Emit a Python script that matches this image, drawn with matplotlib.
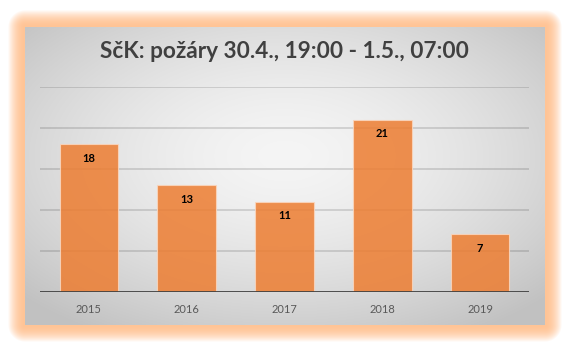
import numpy as np
import matplotlib
matplotlib.use("Agg")
import matplotlib.pyplot as plt

years = ["2015", "2016", "2017", "2018", "2019"]
fires = [18, 13, 11, 21, 7]
title = "SčK: požáry 30.4., 19:00 - 1.5., 07:00"

W, H = 570, 351
fig = plt.figure(figsize=(W / 100, H / 100), dpi=100)

# background: white, orange glow, radial gray gradient panel
px0, px1, py0, py1 = 25, 545, 27, 325
yy, xx = np.mgrid[0:H, 0:W] + 0.5
dx = np.maximum(np.maximum(px0 - xx, xx - px1), 0)
dy = np.maximum(np.maximum(py0 - yy, yy - py1), 0)
d = np.hypot(dx, dy)
glow = np.clip(1 - (d / 17.0) ** 2, 0, 1) * (d > 0)
img = np.ones((H, W, 3))
glow_col = np.array([255, 196, 150]) / 255
img = img * (1 - glow[..., None]) + glow_col * glow[..., None]
inside = (xx >= px0) & (xx <= px1) & (yy >= py0) & (yy <= py1)
cx, cy = (px0 + px1) / 2, (py0 + py1) / 2 - 20
r = np.hypot((xx - cx) / ((px1 - px0) / 2), (yy - cy) / ((py1 - py0) / 2))
val = np.clip(0.96 - 0.12 * r ** 1.6, 0.76, 0.96)
img[inside] = np.repeat(val[inside][:, None], 3, axis=1)

bg = fig.add_axes([0, 0, 1, 1])
bg.imshow(img, extent=(0, W, H, 0), interpolation="bilinear")
bg.set_xlim(0, W)
bg.set_ylim(H, 0)
bg.axis("off")

bg.text(284, 52, title, ha="center", va="center", fontsize=16.3,
        fontweight="bold", color="#404040", family="Lato")

# plot axes
ax_l, ax_r, ax_t, ax_b = 40, 529, 87, 291.7
ax = fig.add_axes([ax_l / W, (H - ax_b) / H, (ax_r - ax_l) / W, (ax_b - ax_t) / H])
ax.patch.set_alpha(0)
x = np.arange(len(years))
ax.set_xlim(-0.5, len(years) - 0.5)
ax.set_ylim(0, 25)
ax.set_yticks([5, 10, 15, 20, 25])
ax.yaxis.grid(True, color="#000000", alpha=0.15, linewidth=1.2)
ax.set_axisbelow(True)
bars = ax.bar(x, fires, width=0.6, color="#ED7D31", alpha=0.85,
              edgecolor="#FAD6BE", linewidth=0.8, zorder=2)
ax.axhline(0, color="#404040", linewidth=2, zorder=3)
for xi, v in zip(x, fires):
    ax.annotate(str(v), (xi, v), xytext=(0, -10), textcoords="offset points",
                ha="center", va="center", fontsize=8, fontweight="bold",
                color="black", family="Lato", zorder=4)
ax.set_xticks(x)
ax.set_xticklabels(years, fontsize=8, color="#595959", family="Lato")
ax.tick_params(axis="x", length=0, pad=9)
ax.tick_params(axis="y", length=0, labelleft=False)
for s in ax.spines.values():
    s.set_visible(False)

fig.savefig("out.png", dpi=100)
